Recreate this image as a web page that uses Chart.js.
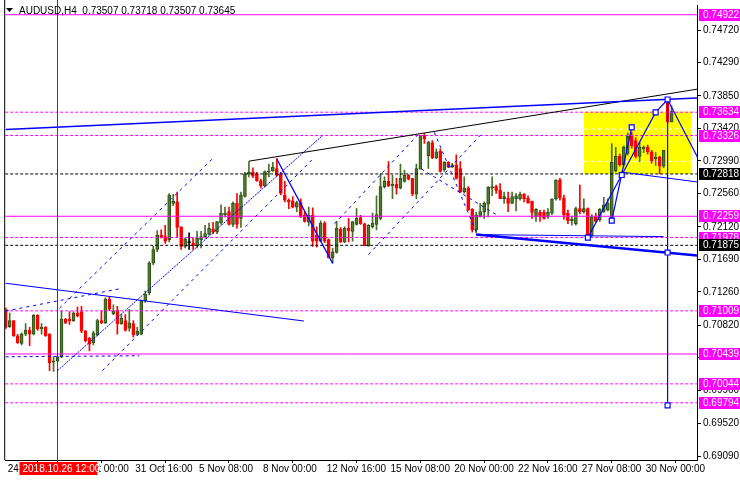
<!DOCTYPE html>
<html>
<head>
<meta charset="utf-8">
<script src="https://cdn.jsdelivr.net/npm/chart.js@4.4.1/dist/chart.umd.min.js"></script>
<style>
  html, body { margin: 0; padding: 0; background: #fff; }
  canvas { display: block; }
</style>
</head>
<body>
<canvas id="chart" width="740" height="480"></canvas>
<script>
// AUDUSD H4 candles, bar 0 = 24 Oct 2018 08:00
const opens = [
  0.7103,0.7080,0.7088,0.7068,0.7058,0.7070,0.7075,0.7070,0.7095,0.7077,
  0.7079,0.7070,0.7033,0.7035,0.7040,0.7090,0.7090,0.7088,0.7098,0.7100,
  0.7074,0.7065,0.7059,0.7069,0.7088,0.7085,0.7116,0.7097,0.7102,0.7084,
  0.7088,0.7078,0.7084,0.7070,0.7070,0.7114,0.7125,0.7164,0.7182,0.7201,
  0.7199,0.7195,0.7243,0.7245,0.7212,0.7186,0.7191,0.7190,0.7187,0.7195,
  0.7199,0.7202,0.7209,0.7205,0.7217,0.7228,0.7232,0.7215,0.7243,0.7223,
  0.7252,0.7282,0.7284,0.7282,0.7273,0.7266,0.7284,0.7286,0.7289,0.7282,
  0.7254,0.7247,0.7246,0.7238,0.7244,0.7227,0.7218,0.7227,0.7201,0.7193,
  0.7217,0.7195,0.7171,0.7178,0.7209,0.7192,0.7210,0.7206,0.7215,0.7224,
  0.7216,0.7187,0.7212,0.7215,0.7223,0.7265,0.7272,0.7266,0.7268,0.7263,
  0.7272,0.7280,0.7276,0.7255,0.7288,0.7333,0.7306,0.7323,0.7303,0.7312,
  0.7287,0.7297,0.7291,0.7294,0.7289,0.7258,0.7263,0.7235,0.7208,0.7225,
  0.7232,0.7242,0.7263,0.7265,0.7260,0.7249,0.7250,0.7243,0.7249,0.7249,
  0.7255,0.7250,0.7246,0.7225,0.7231,0.7231,0.7225,0.7230,0.7249,0.7274,
  0.7250,0.7230,0.7220,0.7216,0.7236,0.7232,0.7236,0.7201,0.7225,0.7221,
  0.7232,0.7234,0.7223,0.7286,0.7305,0.7294,0.7309,0.7333,0.7326,0.7305,
  0.7315,0.7317,0.7311,0.7302,0.7304,0.7292,0.7376,0.73507
];
const highs = [
  0.7105,0.7098,0.7088,0.7070,0.7072,0.7084,0.7079,0.7096,0.7096,0.7084,
  0.7080,0.7071,0.7040,0.7041,0.7101,0.7091,0.7100,0.7100,0.7106,0.7107,
  0.7075,0.7066,0.7074,0.7090,0.7101,0.7118,0.7120,0.7109,0.7107,0.7096,
  0.7096,0.7103,0.7088,0.7079,0.7115,0.7127,0.7166,0.7186,0.7207,0.7208,
  0.7214,0.7256,0.7255,0.7258,0.7212,0.7197,0.7204,0.7197,0.7206,0.7206,
  0.7214,0.7217,0.7218,0.7219,0.7241,0.7238,0.7238,0.7245,0.7256,0.7258,
  0.7284,0.7298,0.7290,0.7284,0.7275,0.7286,0.7295,0.7297,0.7302,0.7284,
  0.7272,0.7249,0.7252,0.7246,0.7249,0.7232,0.7238,0.7237,0.7212,0.7220,
  0.7219,0.7196,0.7184,0.7219,0.7211,0.7212,0.7223,0.7219,0.7236,0.7227,
  0.7217,0.7215,0.7230,0.7253,0.7282,0.7278,0.7298,0.7280,0.7276,0.7295,
  0.7287,0.7281,0.7276,0.7295,0.7333,0.7335,0.7325,0.7326,0.7315,0.7315,
  0.7298,0.7298,0.7296,0.7307,0.7298,0.7278,0.7265,0.7236,0.7231,0.7243,
  0.7245,0.7265,0.7278,0.7267,0.7269,0.7258,0.7258,0.7258,0.7256,0.7258,
  0.7256,0.7253,0.7246,0.7236,0.7234,0.7234,0.7236,0.7249,0.7274,0.7276,
  0.7254,0.7234,0.7226,0.7238,0.7267,0.7249,0.7237,0.7228,0.7230,0.7236,
  0.7251,0.7249,0.7322,0.7317,0.7308,0.7319,0.7336,0.7337,0.7330,0.7324,
  0.7319,0.7320,0.7313,0.7310,0.7305,0.7313,0.7381,0.73718
];
const lows = [
  0.7077,0.7079,0.7067,0.7058,0.7056,0.7068,0.7055,0.7069,0.7075,0.7070,
  0.7067,0.7022,0.7021,0.7033,0.7039,0.7084,0.7083,0.7087,0.7093,0.7072,
  0.7060,0.7048,0.7056,0.7068,0.7084,0.7084,0.7101,0.7096,0.7070,0.7083,
  0.7074,0.7074,0.7066,0.7068,0.7069,0.7112,0.7122,0.7162,0.7179,0.7197,
  0.7190,0.7192,0.7240,0.7199,0.7182,0.7184,0.7182,0.7182,0.7184,0.7184,
  0.7197,0.7201,0.7203,0.7203,0.7215,0.7225,0.7214,0.7212,0.7210,0.7211,
  0.7251,0.7278,0.7277,0.7272,0.7263,0.7265,0.7278,0.7285,0.7279,0.7254,
  0.7245,0.7236,0.7237,0.7232,0.7224,0.7218,0.7213,0.7186,0.7185,0.7192,
  0.7191,0.7171,0.7164,0.7177,0.7191,0.7191,0.7192,0.7193,0.7214,0.7215,
  0.7187,0.7186,0.7210,0.7208,0.7221,0.7263,0.7265,0.7249,0.7255,0.7262,
  0.7271,0.7274,0.7253,0.7249,0.7288,0.7322,0.7289,0.7302,0.7302,0.7284,
  0.7285,0.7290,0.7290,0.7275,0.7257,0.7256,0.7234,0.7205,0.7204,0.7225,
  0.7223,0.7225,0.7253,0.7256,0.7249,0.7243,0.7232,0.7243,0.7233,0.7247,
  0.7245,0.7243,0.7223,0.7219,0.7219,0.7222,0.7223,0.7228,0.7247,0.7247,
  0.7222,0.7216,0.7214,0.7214,0.7229,0.7230,0.7199,0.7199,0.7218,0.7219,
  0.7231,0.7233,0.7220,0.7284,0.7292,0.7292,0.7307,0.7316,0.7303,0.7298,
  0.7310,0.7308,0.7296,0.7293,0.7282,0.7290,0.7349,0.73507
];
const closes = [
  0.7079,0.7088,0.7068,0.7059,0.7070,0.7075,0.7070,0.7095,0.7077,0.7079,
  0.7068,0.7032,0.7035,0.7040,0.7090,0.7085,0.7088,0.7098,0.7094,0.7074,
  0.7061,0.7057,0.7072,0.7088,0.7085,0.7116,0.7103,0.7101,0.7084,0.7091,
  0.7075,0.7085,0.7069,0.7074,0.7114,0.7123,0.7164,0.7182,0.7201,0.7198,
  0.7193,0.7254,0.7246,0.7211,0.7186,0.7196,0.7191,0.7187,0.7197,0.7199,
  0.7203,0.7210,0.7205,0.7219,0.7230,0.7230,0.7215,0.7243,0.7215,0.7254,
  0.7282,0.7284,0.7279,0.7273,0.7266,0.7285,0.7286,0.7291,0.7280,0.7256,
  0.7247,0.7245,0.7238,0.7244,0.7225,0.7219,0.7227,0.7193,0.7193,0.7217,
  0.7193,0.7171,0.7179,0.7210,0.7192,0.7210,0.7207,0.7219,0.7223,0.7216,
  0.7187,0.7214,0.7217,0.7228,0.7265,0.7272,0.7266,0.7268,0.7263,0.7276,
  0.7280,0.7275,0.7255,0.7289,0.7333,0.7328,0.7324,0.7303,0.7311,0.7285,
  0.7297,0.7291,0.7294,0.7276,0.7258,0.7263,0.7234,0.7208,0.7227,0.7232,
  0.7243,0.7264,0.7265,0.7260,0.7249,0.7252,0.7243,0.7252,0.7253,0.7255,
  0.7249,0.7244,0.7231,0.7235,0.7225,0.7223,0.7231,0.7249,0.7274,0.7250,
  0.7228,0.7220,0.7222,0.7236,0.7232,0.7236,0.7201,0.7225,0.7219,0.7235,
  0.7241,0.7243,0.7297,0.7305,0.7294,0.7317,0.7332,0.7319,0.7305,0.7317,
  0.7317,0.7311,0.7299,0.7304,0.7292,0.7313,0.7351,0.73645
];

// axis ticks
const xTickBars = [0, 16, 32, 48, 64, 80, 96, 112, 128, 144, 160];
const xTickLabels = ['24 Oct 2018', '29 Oct 00:00', '31 Oct 16:00', '5 Nov 08:00', '8 Nov 00:00',
  '12 Nov 16:00', '15 Nov 08:00', '20 Nov 00:00', '22 Nov 16:00', '27 Nov 08:00', '30 Nov 00:00'];
const yTicks = [0.74720, 0.74290, 0.73850, 0.73420, 0.72990, 0.72560, 0.72120,
  0.71690, 0.71260, 0.70820, 0.70390, 0.69960, 0.69520, 0.69090];

// horizontal levels and their kind (m = magenta, k = black; s = solid, d = dashed)
const levelValues = [0.74922, 0.73634, 0.73326, 0.72818, 0.72259, 0.71978, 0.71875, 0.71009, 0.70439, 0.70044, 0.69794];
const levelKinds = ['ms', 'md', 'md', 'kd', 'ms', 'md', 'kd', 'md', 'ms', 'md', 'md'];

// drawn objects, [bar, price] points
const blueLong = [[0, 0.73404], [173.5, 0.73821]];
const blackUpper = [[61, 0.72987], [173.5, 0.73939]];
const chan1Mid = [[13, 0.70219], [79.25, 0.73316]];
const chan1Up = [[13.5, 0.71045], [51.75, 0.73014]];
const chan1Low = [[24.25, 0.70219], [76.75, 0.73001]];
const chan2Up = [[82.5, 0.72161], [103.5, 0.73342]];
const chan2Low = [[91, 0.71754], [119.25, 0.73342]];
const dropA = [[107.5, 0.73368], [118, 0.72052]];
const dropB = [[104.25, 0.72883], [123.5, 0.72266]];
const novDrop = [[68, 0.73014], [82, 0.71636]];
const leftDown = [[0, 0.71374], [74.75, 0.70875]];
const leftArc = [[0, 0.71006], [29.25, 0.71308]];
const leftFlat = [[0, 0.70402], [33.5, 0.70415]];
const baseThick = [[118, 0.72017], [173.5, 0.71741]];
const baseThin = [[118, 0.72017], [165, 0.71990]];
const boxLow = [[154.25, 0.72844], [173.5, 0.72712]];
const waveMain = [[146, 0.71977], [154.5, 0.72804], [163, 0.73631], [166, 0.73802], [173.5, 0.73040]];
const waveSide = [[152, 0.72201], [157, 0.73434]];
const targetLine = [[166, 0.73802], [166, 0.69760]];
const markers = [[146, 0.71977], [152, 0.72201], [154.5, 0.72804], [157, 0.73434], [163, 0.73631],
  [166, 0.73802], [166, 0.71780], [166, 0.69760]];
const zoneBars = [145, 172];
const zonePrices = [0.73634, 0.72818];
const zoneFibs = [0.73412, 0.72984];

const symbol = 'AUDUSD,H4';
const crossBar = 13;
const crossLabel = '2018.10.26 12:00';

const FONT = '10px "Liberation Sans", Arial, sans-serif';
const MAG = '#ff00ff';
const BLUE = '#0000ff';
const xMin = -0.125, xMax = 173.375;
const yMin = 0.69038, yMax = 0.75048;

const idx = opens.map((_, i) => i);
const candleColor = i => closes[i] > opens[i] ? 'up' : (closes[i] < opens[i] ? 'down' : 'flat');

function seg(points, color, width, dash, extra) {
  return Object.assign({
    type: 'line',
    data: points.map(p => ({ x: p[0], y: p[1] })),
    borderColor: color,
    borderWidth: width,
    borderDash: dash || [],
    pointRadius: 0,
    fill: false,
    tension: 0,
    order: 5
  }, extra || {});
}

const datasets = [];

// yellow zone behind candles
datasets.push(seg([[zoneBars[0], zonePrices[0]], [zoneBars[1], zonePrices[0]]], '#ffff00', 1, [],
  { fill: { value: zonePrices[1] }, backgroundColor: '#ffff00', order: 40 }));
zoneFibs.forEach(v => datasets.push(seg([[zoneBars[0], v], [zoneBars[1], v]], '#ffffff', 1, [4, 3], { order: 39 })));

// wicks
datasets.push({
  type: 'bar',
  data: idx.map(i => ({ x: i, y: [lows[i], highs[i]] })),
  backgroundColor: idx.map(i => ({ up: '#48702a', down: '#ff0000', flat: '#000000' })[candleColor(i)]),
  barThickness: 1,
  grouped: false,
  order: 21
});
// bodies
datasets.push({
  type: 'bar',
  data: idx.map(i => ({ x: i, y: [Math.min(opens[i], closes[i]), Math.max(opens[i], closes[i])] })),
  backgroundColor: idx.map(i => ({ up: '#4f7d2c', down: '#ff0000', flat: '#000000' })[candleColor(i)]),
  borderColor: idx.map(i => ({ up: '#2d4f16', down: '#ff0000', flat: '#000000' })[candleColor(i)]),
  borderWidth: 1,
  borderSkipped: false,
  barThickness: 3,
  minBarLength: 1,
  grouped: false,
  order: 20
});

// horizontal levels
levelValues.forEach((v, k) => {
  const kind = levelKinds[k];
  datasets.push(seg([[xMin, v], [xMax, v]], kind[0] === 'm' ? MAG : '#000000', 1, kind[1] === 'd' ? [3, 2] : [], { order: 8 }));
});

// trend lines and channels
datasets.push(seg(blueLong, BLUE, 1.5));
datasets.push(seg(blackUpper, '#000000', 1));
datasets.push(seg(chan1Mid, BLUE, 1, [2, 1]));
datasets.push(seg(chan1Up, BLUE, 1, [3, 4]));
datasets.push(seg(chan1Low, BLUE, 1, [3, 4]));
datasets.push(seg(chan2Up, BLUE, 1, [3, 4]));
datasets.push(seg(chan2Low, BLUE, 1, [3, 4]));
datasets.push(seg(dropA, BLUE, 1, [3, 4]));
datasets.push(seg(dropB, BLUE, 1, [3, 4]));
datasets.push(seg(novDrop, BLUE, 1.2));
datasets.push(seg(leftDown, BLUE, 1.2));
datasets.push(seg(leftArc, BLUE, 1, [3, 4]));
datasets.push(seg(leftFlat, BLUE, 1, [3, 3]));
datasets.push(seg(baseThick, BLUE, 2.5));
datasets.push(seg(baseThin, BLUE, 1));
datasets.push(seg(boxLow, BLUE, 1));
datasets.push(seg(waveMain, BLUE, 1.2));
datasets.push(seg(waveSide, BLUE, 1.2));
datasets.push(seg(targetLine, BLUE, 1.2));
datasets.push(seg(markers, BLUE, 1, [], {
  showLine: false, pointRadius: 3.5, pointStyle: 'rect',
  pointBackgroundColor: '#ffffff', pointBorderColor: BLUE, pointBorderWidth: 1.2, order: 1
}));

const mt4Overlay = {
  id: 'mt4Overlay',
  afterDraw(chart) {
    const { ctx, chartArea: a, scales: { x, y } } = chart;
    ctx.save();
    // left frame
    ctx.strokeStyle = '#000';
    ctx.lineWidth = 1;
    ctx.beginPath();
    ctx.moveTo(a.left - 0.5, 0);
    ctx.lineTo(a.left - 0.5, a.bottom);
    ctx.stroke();

    // crosshair
    const cx = Math.round(x.getPixelForValue(crossBar)) - 0.5;
    ctx.strokeStyle = '#e00000';
    ctx.beginPath();
    ctx.moveTo(cx, 0);
    ctx.lineTo(cx, a.bottom + 3);
    ctx.stroke();

    ctx.font = FONT;
    ctx.textBaseline = 'middle';
    ctx.textAlign = 'left';
    // crosshair time tag
    ctx.fillStyle = '#ff0000';
    ctx.fillRect(cx - 38, a.bottom + 2, 78, 13);
    ctx.fillStyle = '#ffffff';
    ctx.fillText(crossLabel, cx - 35, a.bottom + 9);

    // price tags
    levelValues.forEach((v, k) => {
      const py = Math.round(y.getPixelForValue(v));
      ctx.fillStyle = levelKinds[k][0] === 'm' ? MAG : '#000000';
      ctx.fillRect(a.right + 2, py - 6, 41, 12);
      ctx.fillStyle = '#ffffff';
      ctx.fillText(v.toFixed(5), a.right + 6, py + 0.5);
    });

    // header
    const last = opens.length - 1;
    ctx.fillStyle = '#000';
    ctx.beginPath();
    ctx.moveTo(6, 8); ctx.lineTo(13, 8); ctx.lineTo(9.5, 12); ctx.closePath();
    ctx.fill();
    const head = symbol + '  ' + [opens[last], highs[last], lows[last], closes[last]].map(v => v.toFixed(5)).join(' ');
    ctx.fillText(head, 19, 11);
    ctx.restore();
  }
};

new Chart(document.getElementById('chart'), {
  type: 'bar',
  data: { datasets },
  options: {
    responsive: false,
    devicePixelRatio: 1,
    animation: false,
    events: [],
    layout: { padding: { left: 3, top: 2, right: 0, bottom: 0 } },
    plugins: { legend: { display: false }, tooltip: { enabled: false } },
    scales: {
      x: {
        type: 'linear',
        position: 'bottom',
        min: xMin,
        max: xMax,
        offset: false,
        grid: { drawOnChartArea: false, drawTicks: true, tickLength: 3, color: '#000' },
        border: { display: true, color: '#000' },
        ticks: {
          autoSkip: false, maxRotation: 0, align: 'start', labelOffset: 2, padding: 0,
          color: '#000', font: { family: '"Liberation Sans", Arial, sans-serif', size: 10 },
          callback: v => xTickLabels[xTickBars.indexOf(v)]
        },
        afterBuildTicks: s => { s.ticks = xTickBars.map(v => ({ value: v })); },
        afterFit: s => { s.height = 20; s.paddingLeft = 0; s.paddingRight = 0; }
      },
      y: {
        type: 'linear',
        position: 'right',
        min: yMin,
        max: yMax,
        grid: { drawOnChartArea: false, drawTicks: true, tickLength: 4, color: '#000' },
        border: { display: true, color: '#000' },
        ticks: {
          padding: 2, color: '#000', font: { family: '"Liberation Sans", Arial, sans-serif', size: 10 },
          callback: v => v.toFixed(5)
        },
        afterBuildTicks: s => { s.ticks = yTicks.map(v => ({ value: v })); },
        afterFit: s => { s.width = 43; s.paddingTop = 0; s.paddingBottom = 0; }
      }
    }
  },
  plugins: [mt4Overlay]
});
</script>
</body>
</html>
